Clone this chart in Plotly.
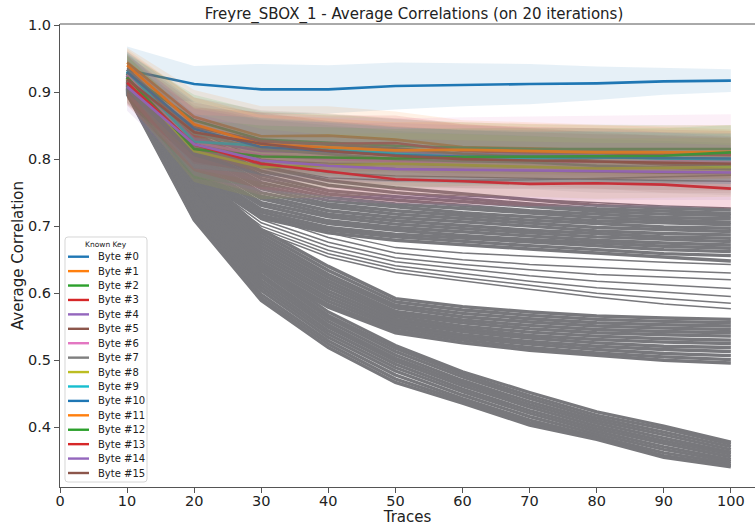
import plotly.graph_objects as go

# ---------------- data ----------------
traces_x = [10, 20, 30, 40, 50, 60, 70, 80, 90, 100]
x_ticks = [0, 10, 20, 30, 40, 50, 60, 70, 80, 90, 100]
y_ticks = [0.4, 0.5, 0.6, 0.7, 0.8, 0.9, 1.0]

byte_labels = ["Byte #%d" % i for i in range(16)]
byte_colors = ["#1f77b4", "#ff7f0e", "#2ca02c", "#d62728", "#9467bd", "#8c564b",
               "#e377c2", "#7f7f7f", "#bcbd22", "#17becf", "#1f77b4", "#ff7f0e",
               "#2ca02c", "#d62728", "#9467bd", "#8c564b"]

byte_means = [
    [0.933, 0.912, 0.904, 0.904, 0.909, 0.911, 0.912, 0.913, 0.916, 0.917],
    [0.944, 0.863, 0.834, 0.835, 0.829, 0.818, 0.816, 0.813, 0.811, 0.808],
    [0.927, 0.858, 0.829, 0.824, 0.820, 0.817, 0.815, 0.815, 0.815, 0.815],
    [0.917, 0.835, 0.826, 0.823, 0.824, 0.812, 0.809, 0.808, 0.808, 0.806],
    [0.925, 0.830, 0.812, 0.810, 0.810, 0.808, 0.806, 0.806, 0.800, 0.795],
    [0.921, 0.848, 0.827, 0.822, 0.816, 0.808, 0.803, 0.798, 0.792, 0.790],
    [0.926, 0.825, 0.806, 0.800, 0.797, 0.796, 0.796, 0.796, 0.797, 0.797],
    [0.918, 0.838, 0.815, 0.808, 0.800, 0.797, 0.795, 0.790, 0.788, 0.785],
    [0.920, 0.812, 0.788, 0.791, 0.793, 0.791, 0.789, 0.786, 0.787, 0.788],
    [0.931, 0.826, 0.820, 0.815, 0.808, 0.803, 0.801, 0.803, 0.801, 0.800],
    [0.930, 0.845, 0.818, 0.812, 0.806, 0.804, 0.803, 0.802, 0.802, 0.801],
    [0.940, 0.852, 0.822, 0.817, 0.813, 0.814, 0.812, 0.810, 0.810, 0.811],
    [0.922, 0.815, 0.804, 0.802, 0.801, 0.803, 0.804, 0.805, 0.805, 0.810],
    [0.914, 0.822, 0.793, 0.781, 0.770, 0.767, 0.763, 0.764, 0.762, 0.756],
    [0.908, 0.822, 0.798, 0.790, 0.785, 0.784, 0.783, 0.782, 0.782, 0.780],
    [0.919, 0.840, 0.823, 0.812, 0.805, 0.800, 0.798, 0.796, 0.795, 0.793],
]

byte_stds = [
    [0.035, 0.027, 0.038, 0.036, 0.035, 0.032, 0.030, 0.025, 0.020, 0.017],
    [0.022, 0.040, 0.045, 0.044, 0.042, 0.040, 0.039, 0.038, 0.037, 0.036],
    [0.030, 0.038, 0.042, 0.043, 0.040, 0.038, 0.037, 0.036, 0.036, 0.035],
    [0.028, 0.042, 0.044, 0.042, 0.041, 0.040, 0.039, 0.038, 0.037, 0.036],
    [0.032, 0.045, 0.046, 0.045, 0.044, 0.042, 0.041, 0.040, 0.040, 0.039],
    [0.040, 0.044, 0.046, 0.046, 0.045, 0.044, 0.043, 0.042, 0.042, 0.041],
    [0.030, 0.050, 0.060, 0.062, 0.064, 0.066, 0.067, 0.068, 0.069, 0.070],
    [0.034, 0.042, 0.044, 0.043, 0.042, 0.041, 0.040, 0.040, 0.039, 0.039],
    [0.036, 0.046, 0.048, 0.047, 0.046, 0.046, 0.045, 0.045, 0.044, 0.044],
    [0.028, 0.040, 0.042, 0.041, 0.040, 0.040, 0.039, 0.038, 0.038, 0.037],
    [0.030, 0.041, 0.043, 0.042, 0.041, 0.040, 0.040, 0.039, 0.038, 0.038],
    [0.024, 0.040, 0.044, 0.043, 0.042, 0.041, 0.041, 0.040, 0.040, 0.040],
    [0.032, 0.044, 0.046, 0.045, 0.044, 0.043, 0.042, 0.042, 0.041, 0.041],
    [0.034, 0.040, 0.038, 0.036, 0.035, 0.034, 0.033, 0.032, 0.031, 0.030],
    [0.036, 0.046, 0.047, 0.046, 0.045, 0.044, 0.043, 0.042, 0.042, 0.041],
    [0.036, 0.044, 0.046, 0.045, 0.044, 0.043, 0.042, 0.041, 0.041, 0.040],
]

# wrong-key guesses (grey curves), grouped by the bundle they belong to
grey_upper = [
    [0.936, 0.842, 0.800, 0.790, 0.786, 0.784, 0.782, 0.781, 0.779, 0.778],
    [0.930, 0.835, 0.790, 0.772, 0.768, 0.768, 0.769, 0.771, 0.774, 0.776],
    [0.932, 0.838, 0.795, 0.780, 0.775, 0.773, 0.771, 0.770, 0.768, 0.767],
    [0.926, 0.828, 0.781, 0.760, 0.750, 0.745, 0.740, 0.735, 0.730, 0.727],
    [0.928, 0.832, 0.798, 0.794, 0.793, 0.790, 0.788, 0.787, 0.786, 0.785],
]
grey_top_bundle = [
    [0.934, 0.838, 0.789, 0.768, 0.757, 0.748, 0.739, 0.731, 0.727, 0.724],
    [0.931, 0.833, 0.782, 0.761, 0.750, 0.741, 0.733, 0.726, 0.722, 0.719],
    [0.929, 0.829, 0.776, 0.753, 0.744, 0.737, 0.729, 0.722, 0.718, 0.716],
    [0.927, 0.825, 0.771, 0.748, 0.739, 0.731, 0.723, 0.718, 0.713, 0.711],
    [0.925, 0.821, 0.765, 0.743, 0.733, 0.726, 0.720, 0.713, 0.709, 0.706],
    [0.923, 0.817, 0.760, 0.738, 0.729, 0.720, 0.714, 0.708, 0.705, 0.702],
    [0.921, 0.813, 0.756, 0.733, 0.723, 0.716, 0.709, 0.704, 0.699, 0.697],
    [0.919, 0.809, 0.750, 0.729, 0.718, 0.711, 0.704, 0.698, 0.695, 0.692],
    [0.917, 0.805, 0.745, 0.723, 0.713, 0.707, 0.700, 0.693, 0.689, 0.687],
    [0.915, 0.801, 0.741, 0.718, 0.708, 0.701, 0.694, 0.689, 0.684, 0.682],
    [0.913, 0.797, 0.735, 0.714, 0.703, 0.696, 0.690, 0.684, 0.680, 0.677],
    [0.911, 0.793, 0.731, 0.708, 0.698, 0.692, 0.685, 0.679, 0.675, 0.672],
    [0.909, 0.789, 0.725, 0.704, 0.694, 0.686, 0.680, 0.675, 0.670, 0.667],
    [0.907, 0.785, 0.721, 0.698, 0.688, 0.682, 0.676, 0.670, 0.665, 0.662],
    [0.905, 0.781, 0.716, 0.694, 0.684, 0.677, 0.671, 0.665, 0.659, 0.656],
    [0.903, 0.778, 0.712, 0.690, 0.679, 0.672, 0.666, 0.660, 0.654, 0.648],
]
grey_between = [
    [0.912, 0.790, 0.722, 0.690, 0.668, 0.660, 0.655, 0.650, 0.646, 0.643],
    [0.910, 0.786, 0.716, 0.683, 0.660, 0.650, 0.643, 0.638, 0.634, 0.630],
    [0.908, 0.782, 0.710, 0.676, 0.653, 0.643, 0.635, 0.628, 0.624, 0.620],
    [0.906, 0.778, 0.705, 0.670, 0.647, 0.636, 0.626, 0.618, 0.612, 0.607],
    [0.904, 0.775, 0.700, 0.664, 0.641, 0.629, 0.618, 0.608, 0.601, 0.595],
    [0.902, 0.771, 0.696, 0.659, 0.636, 0.623, 0.612, 0.600, 0.592, 0.585],
    [0.900, 0.768, 0.692, 0.654, 0.631, 0.618, 0.606, 0.594, 0.584, 0.577],
]
grey_mid_bundle = [
    [0.928, 0.786, 0.695, 0.640, 0.592, 0.580, 0.572, 0.566, 0.563, 0.561],
    [0.925, 0.782, 0.690, 0.634, 0.587, 0.575, 0.567, 0.561, 0.558, 0.556],
    [0.922, 0.778, 0.685, 0.628, 0.582, 0.570, 0.562, 0.556, 0.553, 0.551],
    [0.920, 0.775, 0.680, 0.623, 0.578, 0.565, 0.557, 0.551, 0.548, 0.546],
    [0.918, 0.771, 0.675, 0.618, 0.573, 0.560, 0.552, 0.546, 0.543, 0.541],
    [0.916, 0.768, 0.670, 0.613, 0.569, 0.556, 0.547, 0.541, 0.538, 0.536],
    [0.914, 0.765, 0.665, 0.608, 0.565, 0.551, 0.542, 0.536, 0.532, 0.530],
    [0.912, 0.762, 0.660, 0.603, 0.561, 0.547, 0.537, 0.531, 0.527, 0.525],
    [0.910, 0.759, 0.655, 0.598, 0.557, 0.543, 0.533, 0.526, 0.521, 0.519],
    [0.908, 0.756, 0.650, 0.593, 0.553, 0.538, 0.528, 0.521, 0.516, 0.513],
    [0.906, 0.753, 0.645, 0.588, 0.549, 0.534, 0.524, 0.516, 0.510, 0.507],
    [0.904, 0.750, 0.640, 0.583, 0.545, 0.530, 0.519, 0.511, 0.505, 0.501],
    [0.902, 0.748, 0.636, 0.579, 0.541, 0.526, 0.515, 0.507, 0.500, 0.496],
]
grey_low_bundle = [
    [0.925, 0.748, 0.642, 0.572, 0.522, 0.483, 0.452, 0.423, 0.402, 0.378],
    [0.921, 0.744, 0.638, 0.567, 0.518, 0.479, 0.447, 0.418, 0.398, 0.375],
    [0.918, 0.740, 0.633, 0.563, 0.513, 0.475, 0.443, 0.414, 0.393, 0.371],
    [0.915, 0.736, 0.628, 0.558, 0.508, 0.470, 0.438, 0.410, 0.389, 0.367],
    [0.912, 0.732, 0.624, 0.553, 0.503, 0.466, 0.434, 0.406, 0.384, 0.363],
    [0.910, 0.728, 0.619, 0.549, 0.499, 0.462, 0.430, 0.402, 0.380, 0.360],
    [0.907, 0.725, 0.614, 0.544, 0.494, 0.457, 0.425, 0.398, 0.376, 0.356],
    [0.905, 0.721, 0.609, 0.539, 0.489, 0.453, 0.421, 0.394, 0.371, 0.352],
    [0.903, 0.717, 0.604, 0.534, 0.484, 0.448, 0.416, 0.390, 0.367, 0.349],
    [0.901, 0.714, 0.598, 0.529, 0.478, 0.443, 0.411, 0.386, 0.362, 0.346],
    [0.899, 0.711, 0.593, 0.524, 0.472, 0.439, 0.407, 0.384, 0.358, 0.343],
    [0.897, 0.709, 0.589, 0.519, 0.467, 0.436, 0.403, 0.382, 0.355, 0.341],
]

# ---------------- figure ----------------
W, H = 755, 526
PL, PR, PT, PB = 60, 755, 24, 487
FONT = "DejaVu Sans, Noto Sans, sans-serif"
GREY = "#78787c"


def hex_rgba(h, a):
    h = h.lstrip("#")
    return "rgba(%d,%d,%d,%s)" % (int(h[0:2], 16), int(h[2:4], 16), int(h[4:6], 16), a)


fig = go.Figure()

grey_groups = [(grey_upper, 1.4), (grey_top_bundle, 3.4), (grey_between, 1.5),
               (grey_mid_bundle, 3.4), (grey_low_bundle, 3.2)]
for group, width in grey_groups:
    for ys in group:
        fig.add_trace(go.Scatter(x=traces_x, y=ys, mode="lines",
                                 line=dict(color=GREY, width=width),
                                 showlegend=False, hoverinfo="skip"))

for label, color, mean, std in zip(byte_labels, byte_colors, byte_means, byte_stds):
    lower = [m - s for m, s in zip(mean, std)]
    upper = [m + s for m, s in zip(mean, std)]
    fig.add_trace(go.Scatter(x=traces_x, y=lower, mode="lines",
                             line=dict(width=0, color=color),
                             showlegend=False, hoverinfo="skip"))
    fig.add_trace(go.Scatter(x=traces_x, y=upper, mode="lines",
                             line=dict(width=0, color=color), fill="tonexty",
                             fillcolor=hex_rgba(color, 0.11),
                             showlegend=False, hoverinfo="skip"))
    fig.add_trace(go.Scatter(x=traces_x, y=mean, mode="lines", name=label,
                             line=dict(color=color, width=2.6),
                             showlegend=False))


# ---------------- hand-drawn legend (matplotlib style) ----------------
def px_x(px):
    return (px - PL) / (PR - PL)


def px_y(py):
    return (PB - py) / (PB - PT)


x0, x1 = px_x(65), px_x(147)
y0, y1 = px_y(482), px_y(237)
rx, ry = 3 / (PR - PL), 3 / (PB - PT)
box_path = ("M %f,%f L %f,%f Q %f,%f %f,%f L %f,%f Q %f,%f %f,%f L %f,%f Q %f,%f %f,%f "
            "L %f,%f Q %f,%f %f,%f Z" % (
                x0 + rx, y1, x1 - rx, y1, x1, y1, x1, y1 - ry, x1, y0 + ry, x1, y0, x1 - rx, y0,
                x0 + rx, y0, x0, y0, x0, y0 + ry, x0, y1 - ry, x0, y1, x0 + rx, y1))
shapes = [
    # top spine
    dict(type="line", xref="paper", yref="paper", x0=0, x1=1, y0=1, y1=1,
         line=dict(color="#555", width=1), layer="above"),
    dict(type="path", path=box_path, xref="paper", yref="paper",
         line=dict(color="#d6d6d6", width=1), fillcolor="rgba(255,255,255,0.85)",
         layer="above"),
]
annotations = [dict(text="Known Key", x=px_x(106), y=px_y(244), xref="paper", yref="paper",
                    showarrow=False, xanchor="center", yanchor="middle",
                    font=dict(family=FONT, size=7.5, color="#222"))]
for i, (label, color) in enumerate(zip(byte_labels, byte_colors)):
    py = 256.7 + i * 14.42
    shapes.append(dict(type="line", xref="paper", yref="paper",
                       x0=px_x(68), x1=px_x(89), y0=px_y(py), y1=px_y(py),
                       line=dict(color=color, width=2.4), layer="above"))
    annotations.append(dict(text=label, x=px_x(96), y=px_y(py), xref="paper", yref="paper",
                            showarrow=False, xanchor="left", yanchor="middle",
                            font=dict(family=FONT, size=10, color="#222")))

fig.update_layout(
    width=W, height=H,
    margin=dict(l=PL, r=W - PR, t=PT, b=H - PB, pad=0),
    paper_bgcolor="white", plot_bgcolor="white",
    font=dict(family=FONT, color="#222"),
    title=dict(text="Freyre_SBOX_1 - Average Correlations (on 20 iterations)",
               x=px_x(414), xref="paper", xanchor="center",
               y=1 - 14 / H, yref="container", yanchor="middle",
               font=dict(family=FONT, size=15, color="#222")),
    xaxis=dict(range=[0, 103.6], tickvals=x_ticks, ticktext=[str(t) for t in x_ticks],
               showgrid=False, zeroline=False, showline=True, mirror=False,
               linecolor="#555", linewidth=1, ticks="outside", ticklen=5, tickcolor="#555",
               ticklabelstandoff=-4,
               tickfont=dict(family=FONT, size=14.5, color="#222"),
               title=dict(text="Traces", font=dict(family=FONT, size=15, color="#222"),
                          standoff=2)),
    yaxis=dict(range=[0.311, 1.0015], tickvals=y_ticks, ticktext=["%.1f" % t for t in y_ticks],
               showgrid=False, zeroline=False, showline=True, mirror=False,
               linecolor="#555", linewidth=1, ticks="outside", ticklen=5, tickcolor="#555",
               tickfont=dict(family=FONT, size=14.5, color="#222"),
               title=dict(text="Average Correlation", font=dict(family=FONT, size=15, color="#222"),
                          standoff=0)),
    shapes=shapes, annotations=annotations,
    showlegend=False,
)

fig.write_html("out.html", config={"displayModeBar": False},
               post_script="document.body.style.margin='0px';document.body.style.overflow='hidden';")
